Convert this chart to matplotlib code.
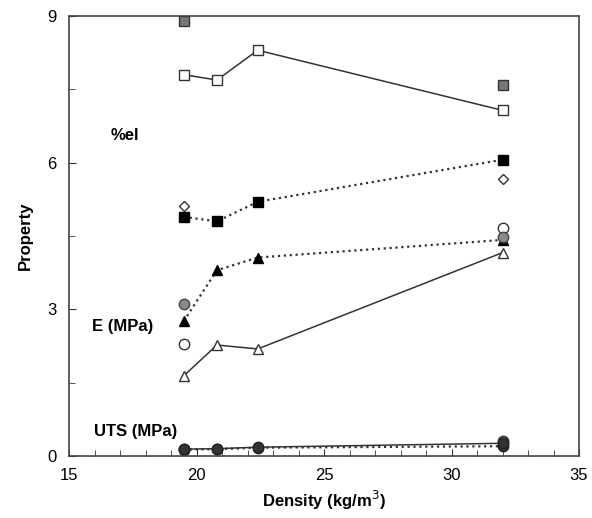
import numpy as np
import matplotlib.pyplot as plt

plt.rcParams['font.family'] = ['Liberation Sans', 'DejaVu Sans']

# density values (kg/m3)
density = [19.5, 20.8, 22.4, 32.0]
density_ends = [19.5, 32.0]

# %el
el_open = [7.8, 7.69, 8.3, 7.07]
el_gray = [8.9, 7.58]
# E (MPa)
e_filled_sq = [4.89, 4.8, 5.2, 6.06]
e_diamond = [5.11, 5.66]
e_filled_tri = [2.76, 3.8, 4.06, 4.42]
e_open_tri = [1.64, 2.27, 2.19, 4.16]
e_gray_circ = [3.1, 4.47]
e_open_circ = [2.29, 4.66]
# UTS (MPa)
uts_solid = [0.14, 0.15, 0.18, 0.26]
uts_dotted = [0.13, 0.14, 0.17, 0.2]
uts_gray = [0.14, 0.3]

fig = plt.figure(figsize=(5.92, 5.18), dpi=100)
ax = fig.add_axes([0.1166, 0.1197, 0.8615, 0.8494])

lc = '#333333'
ms = 7.5
# solid series
ax.plot(density, el_open, '-', color=lc, lw=1.1, marker='s', ms=ms,
        mfc='white', mec='#333333', mew=1.0)
ax.plot(density, e_open_tri, '-', color=lc, lw=1.1, marker='^', ms=ms,
        mfc='white', mec='#333333', mew=1.0)
ax.plot(density, uts_dotted, ':', color=lc, lw=1.6, marker='o', ms=ms,
        mfc='#333333', mec='#222222', mew=1.0)
ax.plot(density, uts_solid, '-', color=lc, lw=1.1, marker='o', ms=ms,
        mfc='#333333', mec='#222222', mew=1.0)
# dotted series
ax.plot(density, e_filled_sq, ':', color=lc, lw=1.6, marker='s', ms=ms,
        mfc='black', mec='black', mew=1.0)
ax.plot(density, e_filled_tri, ':', color=lc, lw=1.6, marker='^', ms=ms,
        mfc='black', mec='black', mew=1.0)
# single points
ax.plot(density_ends, el_gray, 's', ms=ms, mfc='#777777', mec='#333333', mew=1.0)
ax.plot(density_ends, e_diamond, 'D', ms=5, mfc='white', mec='#333333', mew=1.0)
ax.plot(density_ends, e_open_circ, 'o', ms=ms, mfc='white', mec='#333333', mew=1.0)
ax.plot(density_ends, e_gray_circ, 'o', ms=ms, mfc='#888888', mec='#444444', mew=1.0)
ax.plot(density_ends, uts_gray, 'o', ms=ms, mfc='#666666', mec='#333333', mew=1.0,
        zorder=1)

ax.text(17.2, 6.56, '%el', fontsize=12, fontweight='bold', ha='center', va='center')
ax.text(17.1, 2.64, 'E (MPa)', fontsize=12, fontweight='bold', ha='center', va='center')
ax.text(17.6, 0.5, 'UTS (MPa)', fontsize=12, fontweight='bold', ha='center', va='center')

ax.set_xlim(15, 35)
ax.set_ylim(0, 9)
ax.set_xticks([15, 20, 25, 30, 35])
ax.set_xticks(np.arange(15, 36, 1), minor=True)
ax.set_yticks([0, 3, 6, 9])
ax.set_yticks([1.5, 4.5, 7.5], minor=True)
ax.tick_params(which='both', direction='in', labelsize=12, color='#333333')
ax.tick_params(which='major', length=5)
ax.tick_params(which='minor', length=4)
ax.tick_params(axis='x', pad=9)
ax.tick_params(axis='y', pad=9)
for s in ax.spines.values():
    s.set_color('#444444')
    s.set_linewidth(1.2)

ax.set_xlabel('Density (kg/m$^3$)', fontsize=12, fontweight='bold', labelpad=4)
ax.set_ylabel('Property', fontsize=12, fontweight='bold', labelpad=10)

fig.savefig('out.png', dpi=100)
